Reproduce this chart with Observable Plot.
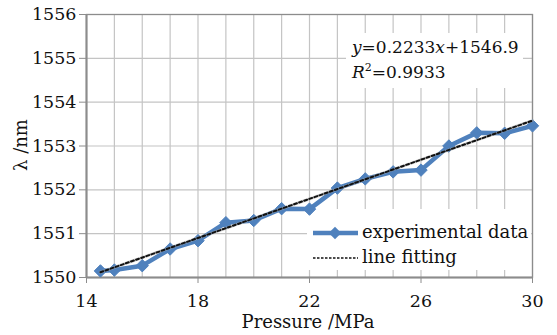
<!DOCTYPE html>
<html><head><meta charset="utf-8">
<script src="https://cdn.jsdelivr.net/npm/d3@7"></script>
<script src="https://cdn.jsdelivr.net/npm/@observablehq/plot@0.6"></script>
<style>body{margin:0;background:#fff} svg{display:block}</style>
</head><body><div id="chart"></div>
<script>
// ---- data ----
const pressure = [14.5, 15, 16, 17, 18, 19, 20, 21, 22, 23, 24, 25, 26, 27, 28, 29, 30];
const wavelength = [1550.15, 1550.17, 1550.27, 1550.65, 1550.84, 1551.25, 1551.30, 1551.57, 1551.56,
                    1552.04, 1552.25, 1552.41, 1552.45, 1553.00, 1553.30, 1553.29, 1553.46];
const fitPressure = [14.5, 30];
const fitWavelength = [1550.12, 1553.58];
const xTicks = [14, 18, 22, 26, 30];
const yTicks = [1550, 1551, 1552, 1553, 1554, 1555, 1556];
const xGridTicks = [14, 15, 16, 17, 18, 19, 20, 21, 22, 23, 24, 25, 26, 27, 28, 29, 30];
const seriesNames = ["experimental data", "line fitting"];
const xLabel = "Pressure /MPa";
const yLabel = "λ /nm";

const data = pressure.map((p, i) => ({p, w: wavelength[i]}));
const fit = fitPressure.map((p, i) => ({p, w: fitWavelength[i]}));

const W = 557, H = 335, mL = 86, mR = 25, mT = 14, mB = 58;
const FONT = "'DejaVu Serif', 'DejaVu Sans', serif";
const BLUE = "#4f81bd";
const GRID = "#c4c4c4";
const AXIS = "#8c8c8c";

const svg = Plot.plot({
  width: W, height: H,
  marginLeft: mL, marginRight: mR, marginTop: mT, marginBottom: mB,
  style: {fontFamily: FONT, fontSize: "17.5px", color: "#111", background: "white"},
  x: {domain: [14, 30]},
  y: {domain: [1550, 1556]},
  marks: [
    Plot.gridX(xGridTicks, {stroke: GRID, strokeOpacity: 1, strokeWidth: 1.2}),
    Plot.gridY(yTicks, {stroke: GRID, strokeOpacity: 1, strokeWidth: 1.2}),
    Plot.frame({stroke: AXIS, strokeWidth: 1.3}),
    Plot.ruleX([14], {stroke: AXIS, strokeWidth: 2}),
    Plot.ruleY([1550], {stroke: AXIS, strokeWidth: 2}),
    Plot.axisX(xTicks, {tickSize: 6, tickPadding: 11, stroke: AXIS, fill: "#111", label: null,
                        fontSize: 17.5, fontFamily: FONT, tickFormat: d => String(d)}),
    Plot.axisY(yTicks, {tickSize: 7, tickPadding: 3, stroke: AXIS, fill: "#111", label: null,
                        fontSize: 17.5, fontFamily: FONT, tickFormat: d => String(d)}),
    Plot.line(data, {x: "p", y: "w", stroke: BLUE, strokeWidth: 4.5, strokeLinejoin: "round"}),
    Plot.dot(data, {x: "p", y: "w", symbol: "diamond2", r: 5.6, fill: BLUE, stroke: BLUE, strokeWidth: 1}),
    Plot.line(fit, {x: "p", y: "w", stroke: "#aaa", strokeWidth: 3, strokeOpacity: 0.5}),
    Plot.line(fit, {x: "p", y: "w", stroke: "#111", strokeWidth: 2, strokeDasharray: "3,2.4"})
  ]
});

const s = d3.select(svg);
s.attr("font-family", FONT).style("font-family", FONT);

// white boxes behind the equation and the legend (over the grid, under the frame)
const frameEl = svg.querySelector('[aria-label="frame"]');
const addBox = (x, y, w, h) => {
  const r = document.createElementNS("http://www.w3.org/2000/svg", "rect");
  r.setAttribute("x", x); r.setAttribute("y", y);
  r.setAttribute("width", w); r.setAttribute("height", h);
  r.setAttribute("fill", "white");
  if (frameEl) svg.insertBefore(r, frameEl); else svg.appendChild(r);
};
addBox(346, 33, 177, 55);
addBox(307, 209, 224, 61);

// axis titles
s.append("text").attr("x", 308).attr("y", 328).attr("text-anchor", "middle")
  .attr("font-size", 18).attr("fill", "#111").text(xLabel);
s.append("text").attr("transform", "translate(27,145) rotate(-90)").attr("text-anchor", "middle")
  .attr("font-size", 18).attr("fill", "#111").text(yLabel);

// equation annotation
const eq = s.append("text").attr("x", 352).attr("y", 53).attr("text-anchor", "start")
  .attr("font-size", 17).attr("fill", "#111");
eq.append("tspan").attr("font-style", "italic").text("y");
eq.append("tspan").text("=0.2233");
eq.append("tspan").attr("font-style", "italic").text("x");
eq.append("tspan").text("+1546.9");
const r2 = s.append("text").attr("x", 352).attr("y", 78).attr("text-anchor", "start")
  .attr("font-size", 17).attr("fill", "#111");
r2.append("tspan").attr("font-style", "italic").text("R");
r2.append("tspan").attr("font-size", 11).attr("dy", -7).text("2");
r2.append("tspan").attr("dy", 7).text("=0.9933");

// legend
const lg = s.append("g");
lg.append("line").attr("x1", 313).attr("x2", 358).attr("y1", 233).attr("y2", 233)
  .attr("stroke", BLUE).attr("stroke-width", 4.5);
lg.append("path").attr("d", d3.symbol(d3.symbolDiamond2, Math.PI * 5.6 * 5.6)())
  .attr("transform", "translate(335,233)").attr("fill", BLUE);
lg.append("text").attr("x", 362).attr("y", 238).attr("text-anchor", "start")
  .attr("font-size", 18).attr("fill", "#111").text(seriesNames[0]);
lg.append("line").attr("x1", 313).attr("x2", 358).attr("y1", 258).attr("y2", 258)
  .attr("stroke", "#111").attr("stroke-width", 1.6).attr("stroke-dasharray", "2.5,1.5");
lg.append("text").attr("x", 362).attr("y", 263).attr("text-anchor", "start")
  .attr("font-size", 18).attr("fill", "#111").text(seriesNames[1]);

document.getElementById("chart").appendChild(svg);
</script>
</body></html>
